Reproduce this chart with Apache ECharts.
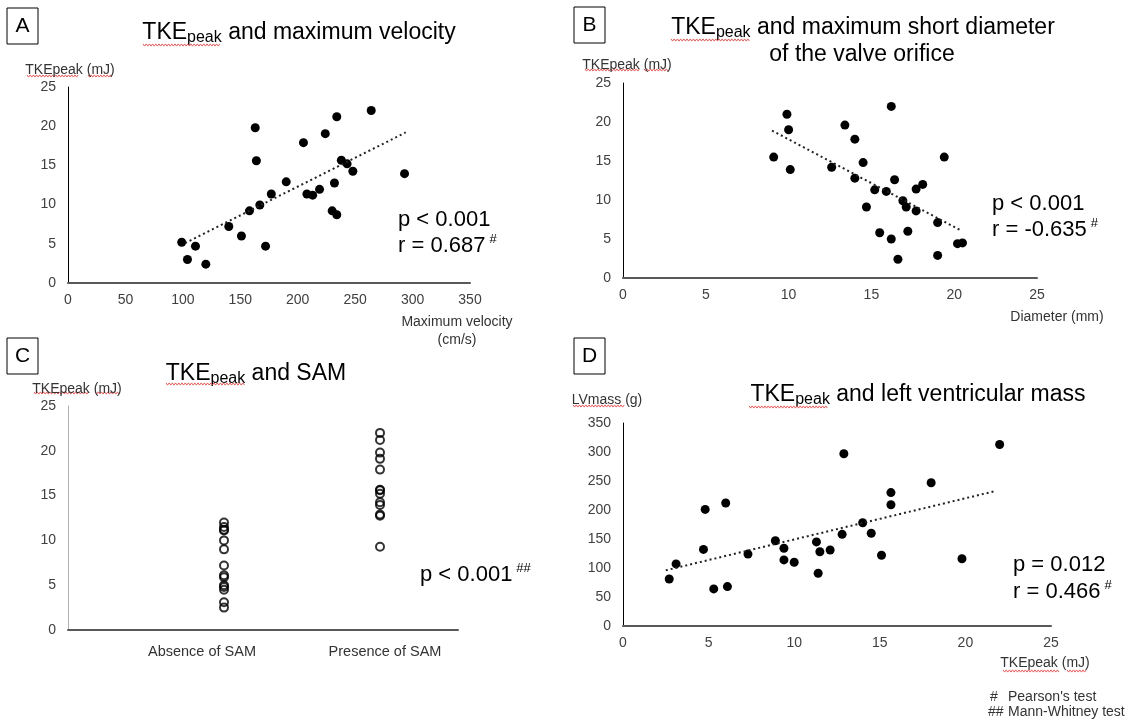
<!DOCTYPE html>
<html>
<head>
<meta charset="utf-8">
<script src="https://cdn.jsdelivr.net/npm/echarts@6/dist/echarts.min.js"></script>
<style>
  html, body { margin: 0; padding: 0; background: #fff; }
  #chart { width: 1147px; height: 726px; }
</style>
</head>
<body>
<div id="chart"></div>
<script>
// A: max velocity (cm/s) vs TKEpeak (mJ)
const velocityA = [99, 111, 104, 120, 140, 151, 158, 163, 164, 167, 172, 177, 190, 205, 208, 213, 219, 224, 230, 232, 234, 234, 238, 243, 248, 264, 293];
const tkeA = [5.2, 4.7, 3.0, 2.4, 7.2, 6.0, 9.2, 19.8, 15.6, 9.95, 4.7, 11.35, 12.9, 17.9, 11.35, 11.2, 11.95, 19.05, 9.2, 12.75, 8.7, 21.2, 15.65, 15.2, 14.25, 22.0, 13.95];
const trendA = [[102, 5.1], [294, 19.2]];

// B: short diameter (mm) vs TKEpeak (mJ)
const diameterB = [9.1, 9.9, 10.0, 10.1, 12.6, 13.4, 14.0, 14.0, 14.5, 14.7, 15.2, 15.5, 15.9, 16.2, 16.2, 16.4, 16.6, 16.9, 17.1, 17.2, 17.7, 17.7, 18.1, 19.0, 19.0, 19.4, 20.2, 20.5];
const tkeB = [15.5, 21.0, 19.0, 13.9, 14.2, 19.6, 17.8, 12.8, 14.8, 9.1, 11.3, 5.8, 11.1, 22.0, 5.0, 12.6, 2.4, 9.9, 9.1, 6.0, 11.4, 8.6, 12.0, 7.1, 2.9, 15.5, 4.4, 4.5];
const trendB = [[9.0, 18.9], [20.4, 6.1]];

// C: TKEpeak by SAM group
const samGroups = ['Absence of SAM', 'Presence of SAM'];
const tkeAbsence = [12.0, 11.5, 11.2, 11.1, 10.0, 9.0, 7.2, 6.1, 5.9, 5.0, 4.8, 4.5, 3.1, 2.5];
const tkePresence = [22.0, 21.2, 19.8, 19.1, 17.9, 15.65, 15.6, 15.2, 14.25, 13.95, 12.9, 12.75, 9.3];

// D: TKEpeak (mJ) vs LV mass (g)
const tkeD = [2.7, 3.1, 4.7, 4.8, 5.3, 6.0, 6.1, 7.3, 8.9, 9.4, 9.4, 10.0, 11.3, 11.5, 11.4, 12.1, 12.9, 12.8, 14.0, 14.5, 15.1, 15.65, 15.65, 18.0, 19.8, 22.0];
const massD = [81, 107, 132, 201, 64, 212, 68, 124, 147, 134, 114, 110, 145, 128, 91, 131, 297, 158, 178, 160, 122, 230, 209, 247, 116, 313];
const trendD = [[2.5, 96], [21.8, 233]];

const zip = (xs, ys) => xs.map((x, i) => [x, ys[i]]);

const sans = '"Liberation Sans", Arial, sans-serif';

const chart = echarts.init(document.getElementById('chart'));

function xAx(gridIndex, max, interval, extra) {
  return Object.assign({
    type: 'value', gridIndex, min: 0, max, interval,
    axisLine: { show: true, onZero: false, lineStyle: { color: '#595959', width: 2 } },
    axisTick: { show: false },
    splitLine: { show: false },
    axisLabel: { fontFamily: sans, fontSize: 14, color: '#404040', margin: 10 }
  }, extra || {});
}

function yAx(gridIndex, max, interval, name, nameGap, namePad, lineColor) {
  return {
    type: 'value', gridIndex, min: 0, max, interval,
    name, nameLocation: 'end', nameGap,
    nameTextStyle: { fontFamily: sans, fontSize: 14, color: '#333', align: 'center', padding: namePad },
    axisLine: { show: true, lineStyle: { color: lineColor || '#000', width: 1 } },
    axisTick: { show: false },
    splitLine: { show: false },
    axisLabel: { fontFamily: sans, fontSize: 14, color: '#404040', margin: 12 }
  };
}

const dots = (xi, data) => ({
  type: 'scatter', xAxisIndex: xi, yAxisIndex: xi, data,
  symbol: 'circle', symbolSize: 9, itemStyle: { color: '#000', opacity: 1 }
});
const trend = (xi, data) => ({
  type: 'line', xAxisIndex: xi, yAxisIndex: xi, data, symbol: 'none',
  lineStyle: { color: '#222', width: 2, type: [2, 3] }
});

function panelLabel(ch, x, y) {
  return [
    { type: 'rect', shape: { x, y, width: 31, height: 36 }, style: { fill: 'none', stroke: '#000', lineWidth: 1 } },
    { type: 'text', x: x + 15.5, y: y + 18, style: { text: ch, font: '21px ' + sans, fill: '#000', align: 'center', verticalAlign: 'middle' } }
  ];
}

const titleRich = {
  a: { fontFamily: sans, fontSize: 23, color: '#000', lineHeight: 26 },
  b: { fontFamily: sans, fontSize: 16, color: '#000', lineHeight: 20, verticalAlign: 'bottom' }
};
function title(text, x, y) {
  return { type: 'text', x, y, style: { text, rich: titleRich, align: 'center', verticalAlign: 'middle' } };
}

const statRich = {
  a: { fontFamily: sans, fontSize: 22, color: '#000', lineHeight: 26 },
  s: { fontFamily: sans, fontSize: 13, color: '#000', lineHeight: 26, verticalAlign: 'top', padding: [0, 0, 0, 4] }
};
function stat(text, x, y) {
  return { type: 'text', x, y, style: { text, rich: statRich, align: 'left', verticalAlign: 'middle' } };
}

function label(text, x, y, align) {
  return { type: 'text', x, y, style: { text, font: '14px ' + sans, fill: '#333', align: align || 'center', verticalAlign: 'middle' } };
}

// red spell-check underline seen under some words
function squiggle(x0, x1, y) {
  const pts = [];
  for (let x = x0, i = 0; x <= x1; x += 1.6, i++) pts.push([x, y + (i % 2 ? 1.1 : -1.1)]);
  return { type: 'polyline', shape: { points: pts }, style: { stroke: '#e04848', lineWidth: 0.9, fill: null } };
}

const option = {
  backgroundColor: '#fff',
  animation: false,
  grid: [
    { left: 68, top: 87, width: 402, height: 196 },
    { left: 623, top: 83, width: 414, height: 195 },
    { left: 68, top: 406, width: 390, height: 224 },
    { left: 623, top: 423, width: 428, height: 203 }
  ],
  xAxis: [
    xAx(0, 350, 50),
    xAx(1, 25, 5),
    xAx(2, 2.5, 0.5, {
      axisLabel: {
        fontFamily: sans, fontSize: 14.5, color: '#333', margin: 14,
        formatter: v => v === 1 ? '{l|' + samGroups[0] + '}' : (v === 2 ? '{r|' + samGroups[1] + '}' : ''),
        rich: {
          l: { fontFamily: sans, fontSize: 14.5, color: '#333', padding: [0, 44, 0, 0] },
          r: { fontFamily: sans, fontSize: 14.5, color: '#333', padding: [0, 0, 0, 10] }
        }
      }
    }),
    xAx(3, 25, 5)
  ],
  yAxis: [
    yAx(0, 25, 5, 'TKEpeak (mJ)', 10, [0, 0, 0, 4]),
    yAx(1, 25, 5, 'TKEpeak (mJ)', 11, [0, 0, 0, 8]),
    yAx(2, 25, 5, 'TKEpeak (mJ)', 10, [0, 0, 0, 18], '#b0b0b0'),
    yAx(3, 350, 50, 'LVmass (g)', 16, [0, 32, 0, 0])
  ],
  series: [
    dots(0, zip(velocityA, tkeA)),
    trend(0, trendA),
    dots(1, zip(diameterB, tkeB)),
    trend(1, trendB),
    {
      type: 'scatter', xAxisIndex: 2, yAxisIndex: 2,
      data: tkeAbsence.map(v => [1, v]).concat(tkePresence.map(v => [2, v])),
      symbol: 'circle', symbolSize: 8,
      itemStyle: { color: 'rgba(255,255,255,0)', borderColor: '#000', borderWidth: 2 }
    },
    dots(3, zip(tkeD, massD)),
    trend(3, trendD)
  ],
  graphic: [
    ...panelLabel('A', 7, 8),
    ...panelLabel('B', 574, 7),
    ...panelLabel('C', 7, 338),
    ...panelLabel('D', 574, 338),
    title('{a|TKE}{b|peak}{a| and maximum velocity}', 299, 33),
    title('{a|TKE}{b|peak}{a| and maximum short diameter}', 863, 28),
    title('{a|of the valve orifice}', 862, 55),
    title('{a|TKE}{b|peak}{a| and SAM}', 256, 374),
    title('{a|TKE}{b|peak}{a| and left ventricular mass}', 918, 395),
    label('Maximum velocity', 457, 322),
    label('(cm/s)', 457, 340),
    label('Diameter (mm)', 1057, 317),
    label('TKEpeak (mJ)', 1045, 663),
    stat('{a|p < 0.001}', 398, 220),
    stat('{a|r = 0.687}{s|#}', 398, 246),
    stat('{a|p < 0.001}', 992, 204),
    stat('{a|r = -0.635}{s|#}', 992, 230),
    stat('{a|p < 0.001}{s|##}', 420, 575),
    stat('{a|p = 0.012}', 1013, 565),
    stat('{a|r = 0.466}{s|#}', 1013, 592),
    label('#', 990, 697, 'left'),
    label("Pearson's test", 1008, 697, 'left'),
    label('##', 988, 712, 'left'),
    label('Mann-Whitney test', 1008, 712, 'left'),
    squiggle(143, 221, 45),
    squiggle(27, 79, 76),
    squiggle(88, 113, 76),
    squiggle(671, 750, 40),
    squiggle(585, 640, 70),
    squiggle(644, 669, 70),
    squiggle(166, 245, 384),
    squiggle(34, 89, 393),
    squiggle(95, 120, 393),
    squiggle(749, 828, 407),
    squiggle(573, 625, 406),
    squiggle(1003, 1060, 671),
    squiggle(1067, 1087, 671)
  ]
};

chart.setOption(option);
</script>
</body>
</html>
